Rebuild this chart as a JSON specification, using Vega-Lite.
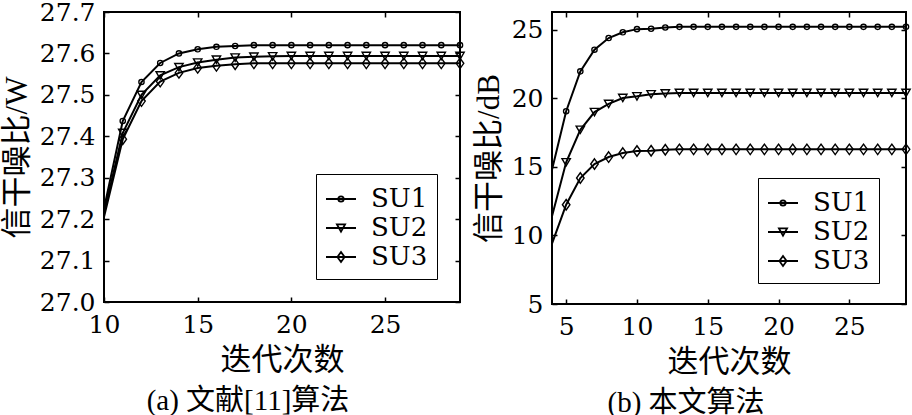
{
  "$schema": "https://vega.github.io/schema/vega-lite/v6.json",
  "padding": {"left": 0, "top": -1, "right": 0, "bottom": 0},
  "spacing": 4,
  "resolve": {"scale": {"shape": "independent"}, "legend": {"shape": "independent"}},
  "config": {
    "view": {"stroke": "black", "strokeWidth": 2},
    "axis": {
      "grid": false,
      "domain": false,
      "tickSize": -5,
      "tickColor": "black",
      "tickWidth": 1.5,
      "labelFont": "DejaVu Serif",
      "labelFontSize": 25,
      "labelColor": "black",
      "labelFlush": false,
      "labelOverlap": false,
      "titleFont": "Liberation Serif, Noto Sans CJK SC",
      "titleFontSize": 31,
      "titleFontWeight": "normal",
      "titleColor": "black"
    },
    "legend": {
      "title": null,
      "strokeColor": "black",
      "fillColor": "white",
      "padding": 9,
      "labelFont": "DejaVu Serif",
      "labelFontSize": 26,
      "labelColor": "black",
      "labelOffset": 14,
      "symbolSize": 900,
      "symbolStrokeWidth": 1.8,
      "symbolStrokeColor": "black",
      "symbolFillColor": "transparent",
      "symbolOpacity": 1,
      "rowPadding": 0
    }
  },
  "datasets": {
    "a": [
      {"x": 10, "y": 27.225, "s": "SU1"}, {"x": 11, "y": 27.437, "s": "SU1"}, {"x": 12, "y": 27.531, "s": "SU1"}, {"x": 13, "y": 27.577, "s": "SU1"}, {"x": 14, "y": 27.6, "s": "SU1"}, {"x": 15, "y": 27.61, "s": "SU1"}, {"x": 16, "y": 27.616, "s": "SU1"}, {"x": 17, "y": 27.618, "s": "SU1"}, {"x": 18, "y": 27.62, "s": "SU1"}, {"x": 19, "y": 27.62, "s": "SU1"}, {"x": 20, "y": 27.62, "s": "SU1"}, {"x": 21, "y": 27.62, "s": "SU1"}, {"x": 22, "y": 27.62, "s": "SU1"}, {"x": 23, "y": 27.62, "s": "SU1"}, {"x": 24, "y": 27.62, "s": "SU1"}, {"x": 25, "y": 27.62, "s": "SU1"}, {"x": 26, "y": 27.62, "s": "SU1"}, {"x": 27, "y": 27.62, "s": "SU1"}, {"x": 28, "y": 27.62, "s": "SU1"}, {"x": 29, "y": 27.62, "s": "SU1"},
      {"x": 10, "y": 27.215, "s": "SU2"}, {"x": 11, "y": 27.408, "s": "SU2"}, {"x": 12, "y": 27.5, "s": "SU2"}, {"x": 13, "y": 27.547, "s": "SU2"}, {"x": 14, "y": 27.567, "s": "SU2"}, {"x": 15, "y": 27.578, "s": "SU2"}, {"x": 16, "y": 27.585, "s": "SU2"}, {"x": 17, "y": 27.59, "s": "SU2"}, {"x": 18, "y": 27.592, "s": "SU2"}, {"x": 19, "y": 27.593, "s": "SU2"}, {"x": 20, "y": 27.594, "s": "SU2"}, {"x": 21, "y": 27.594, "s": "SU2"}, {"x": 22, "y": 27.594, "s": "SU2"}, {"x": 23, "y": 27.594, "s": "SU2"}, {"x": 24, "y": 27.594, "s": "SU2"}, {"x": 25, "y": 27.594, "s": "SU2"}, {"x": 26, "y": 27.594, "s": "SU2"}, {"x": 27, "y": 27.594, "s": "SU2"}, {"x": 28, "y": 27.594, "s": "SU2"}, {"x": 29, "y": 27.594, "s": "SU2"},
      {"x": 10, "y": 27.205, "s": "SU3"}, {"x": 11, "y": 27.393, "s": "SU3"}, {"x": 12, "y": 27.485, "s": "SU3"}, {"x": 13, "y": 27.532, "s": "SU3"}, {"x": 14, "y": 27.553, "s": "SU3"}, {"x": 15, "y": 27.565, "s": "SU3"}, {"x": 16, "y": 27.57, "s": "SU3"}, {"x": 17, "y": 27.574, "s": "SU3"}, {"x": 18, "y": 27.576, "s": "SU3"}, {"x": 19, "y": 27.576, "s": "SU3"}, {"x": 20, "y": 27.576, "s": "SU3"}, {"x": 21, "y": 27.576, "s": "SU3"}, {"x": 22, "y": 27.576, "s": "SU3"}, {"x": 23, "y": 27.576, "s": "SU3"}, {"x": 24, "y": 27.576, "s": "SU3"}, {"x": 25, "y": 27.576, "s": "SU3"}, {"x": 26, "y": 27.576, "s": "SU3"}, {"x": 27, "y": 27.576, "s": "SU3"}, {"x": 28, "y": 27.576, "s": "SU3"}, {"x": 29, "y": 27.576, "s": "SU3"}
    ],
    "b": [
      {"x": 4, "y": 14.8, "s": "SU1"}, {"x": 5, "y": 19.06, "s": "SU1"}, {"x": 6, "y": 21.97, "s": "SU1"}, {"x": 7, "y": 23.55, "s": "SU1"}, {"x": 8, "y": 24.4, "s": "SU1"}, {"x": 9, "y": 24.82, "s": "SU1"}, {"x": 10, "y": 25.05, "s": "SU1"}, {"x": 11, "y": 25.08, "s": "SU1"}, {"x": 12, "y": 25.17, "s": "SU1"}, {"x": 13, "y": 25.22, "s": "SU1"}, {"x": 14, "y": 25.22, "s": "SU1"}, {"x": 15, "y": 25.22, "s": "SU1"}, {"x": 16, "y": 25.22, "s": "SU1"}, {"x": 17, "y": 25.22, "s": "SU1"}, {"x": 18, "y": 25.22, "s": "SU1"}, {"x": 19, "y": 25.22, "s": "SU1"}, {"x": 20, "y": 25.22, "s": "SU1"}, {"x": 21, "y": 25.22, "s": "SU1"}, {"x": 22, "y": 25.22, "s": "SU1"}, {"x": 23, "y": 25.22, "s": "SU1"}, {"x": 24, "y": 25.22, "s": "SU1"}, {"x": 25, "y": 25.22, "s": "SU1"}, {"x": 26, "y": 25.22, "s": "SU1"}, {"x": 27, "y": 25.22, "s": "SU1"}, {"x": 28, "y": 25.22, "s": "SU1"}, {"x": 29, "y": 25.22, "s": "SU1"},
      {"x": 4, "y": 11.4, "s": "SU2"}, {"x": 5, "y": 15.34, "s": "SU2"}, {"x": 6, "y": 17.71, "s": "SU2"}, {"x": 7, "y": 19.0, "s": "SU2"}, {"x": 8, "y": 19.6, "s": "SU2"}, {"x": 9, "y": 20.03, "s": "SU2"}, {"x": 10, "y": 20.15, "s": "SU2"}, {"x": 11, "y": 20.3, "s": "SU2"}, {"x": 12, "y": 20.36, "s": "SU2"}, {"x": 13, "y": 20.4, "s": "SU2"}, {"x": 14, "y": 20.4, "s": "SU2"}, {"x": 15, "y": 20.4, "s": "SU2"}, {"x": 16, "y": 20.4, "s": "SU2"}, {"x": 17, "y": 20.4, "s": "SU2"}, {"x": 18, "y": 20.4, "s": "SU2"}, {"x": 19, "y": 20.4, "s": "SU2"}, {"x": 20, "y": 20.4, "s": "SU2"}, {"x": 21, "y": 20.4, "s": "SU2"}, {"x": 22, "y": 20.4, "s": "SU2"}, {"x": 23, "y": 20.4, "s": "SU2"}, {"x": 24, "y": 20.4, "s": "SU2"}, {"x": 25, "y": 20.4, "s": "SU2"}, {"x": 26, "y": 20.4, "s": "SU2"}, {"x": 27, "y": 20.4, "s": "SU2"}, {"x": 28, "y": 20.4, "s": "SU2"}, {"x": 29, "y": 20.4, "s": "SU2"},
      {"x": 4, "y": 9.4, "s": "SU3"}, {"x": 5, "y": 12.24, "s": "SU3"}, {"x": 6, "y": 14.19, "s": "SU3"}, {"x": 7, "y": 15.21, "s": "SU3"}, {"x": 8, "y": 15.72, "s": "SU3"}, {"x": 9, "y": 16.01, "s": "SU3"}, {"x": 10, "y": 16.16, "s": "SU3"}, {"x": 11, "y": 16.18, "s": "SU3"}, {"x": 12, "y": 16.25, "s": "SU3"}, {"x": 13, "y": 16.28, "s": "SU3"}, {"x": 14, "y": 16.28, "s": "SU3"}, {"x": 15, "y": 16.28, "s": "SU3"}, {"x": 16, "y": 16.28, "s": "SU3"}, {"x": 17, "y": 16.28, "s": "SU3"}, {"x": 18, "y": 16.28, "s": "SU3"}, {"x": 19, "y": 16.28, "s": "SU3"}, {"x": 20, "y": 16.28, "s": "SU3"}, {"x": 21, "y": 16.28, "s": "SU3"}, {"x": 22, "y": 16.28, "s": "SU3"}, {"x": 23, "y": 16.28, "s": "SU3"}, {"x": 24, "y": 16.28, "s": "SU3"}, {"x": 25, "y": 16.28, "s": "SU3"}, {"x": 26, "y": 16.28, "s": "SU3"}, {"x": 27, "y": 16.28, "s": "SU3"}, {"x": 28, "y": 16.28, "s": "SU3"}, {"x": 29, "y": 16.28, "s": "SU3"}
    ]
  },
  "hconcat": [
    {
      "width": 356,
      "height": 290,
      "data": {"name": "a"},
      "title": {"text": "(a) 文献[11]算法", "orient": "bottom", "anchor": "middle", "frame": "group", "dx": -34, "offset": 12, "font": "Liberation Serif, Noto Sans CJK SC", "fontSize": 29, "fontWeight": "normal", "color": "black"},
      "layer": [
        {
          "mark": {"type": "line", "color": "black", "strokeWidth": 2},
          "encoding": {
            "x": {"field": "x", "type": "quantitative", "scale": {"domain": [10, 29], "nice": false, "zero": false},
                  "axis": {"orient": "bottom", "values": [10, 15, 20, 25], "title": "迭代次数", "labelPadding": 15, "titlePadding": 8}},
            "y": {"field": "y", "type": "quantitative", "scale": {"domain": [27.0, 27.7], "nice": false, "zero": false},
                  "axis": {"orient": "left", "values": [27.0, 27.1, 27.2, 27.3, 27.4, 27.5, 27.6, 27.7], "format": ".1f", "title": "信干噪比/W", "labelPadding": 14, "titlePadding": 6}},
            "detail": {"field": "s", "type": "nominal"}
          }
        },
        {
          "transform": [{"filter": "datum.x > 10"}],
          "mark": {"type": "point", "filled": false, "color": "black", "strokeWidth": 1.4, "opacity": 1, "size": 110},
          "encoding": {
            "x": {"field": "x", "type": "quantitative", "axis": null},
            "y": {"field": "y", "type": "quantitative", "axis": null},
            "shape": {"field": "s", "type": "nominal", "legend": null,
              "scale": {"domain": ["SU1", "SU2", "SU3"], "range": ["M0.5,0A0.5,0.5,0,1,1,-0.5,0A0.5,0.5,0,1,1,0.5,0Z", "M-0.8,-0.7L0.8,-0.7L0,0.7Z", "M0,-1L0.72,0L0,1L-0.72,0Z"]}}
          }
        },
        {
          "transform": [{"filter": "false"}],
          "mark": {"type": "point", "filled": false, "color": "black", "strokeWidth": 1.8, "opacity": 0, "size": 1},
          "encoding": {
            "x": {"field": "x", "type": "quantitative", "axis": null},
            "y": {"field": "y", "type": "quantitative", "axis": null},
            "shape": {"field": "s", "type": "nominal",
              "scale": {"domain": ["SU1", "SU2", "SU3"], "range": ["M-1,0H1M0.18,0A0.18,0.18,0,1,1,-0.18,0A0.18,0.18,0,1,1,0.18,0Z", "M-1,0H1M-0.27,-0.24L0.27,-0.24L0,0.24Z", "M-1,0H1M0,-0.33L0.24,0L0,0.33L-0.24,0Z"]},
              "legend": {
                "orient": "none", "legendX": 212, "legendY": 162,
                "encode": {
                  "legend": {"strokeWidth": {"value": 1.5}},
                  "symbols": {
                    "size": {"value": 900},
                    "stroke": {"value": "black"},
                    "fill": {"value": "transparent"},
                    "strokeWidth": {"value": 1.8},
                    "opacity": {"value": 1}
                  }
                }
              }
            }
          }
        },
        {
          "mark": {"type": "line", "opacity": 0},
          "encoding": {
            "x": {"field": "x", "type": "quantitative", "axis": {"orient": "top", "values": [10, 15, 20, 25], "labels": false, "title": null}},
            "y": {"field": "y", "type": "quantitative", "axis": {"orient": "right", "values": [27.0, 27.1, 27.2, 27.3, 27.4, 27.5, 27.6, 27.7], "labels": false, "title": null}},
            "detail": {"field": "s", "type": "nominal"}
          }
        }
      ],
      "resolve": {"axis": {"x": "independent", "y": "independent"}, "scale": {"shape": "independent"}, "legend": {"shape": "independent"}}
    },
    {
      "width": 354,
      "height": 292,
      "data": {"name": "b"},
      "title": {"text": "(b) 本文算法", "orient": "bottom", "anchor": "middle", "frame": "group", "dx": -43, "offset": 12, "font": "Liberation Serif, Noto Sans CJK SC", "fontSize": 29, "fontWeight": "normal", "color": "black"},
      "layer": [
        {
          "mark": {"type": "line", "color": "black", "strokeWidth": 2},
          "encoding": {
            "x": {"field": "x", "type": "quantitative", "scale": {"domain": [4, 29], "nice": false, "zero": false},
                  "axis": {"orient": "bottom", "values": [5, 10, 15, 20, 25], "title": "迭代次数", "labelPadding": 15, "titlePadding": 8}},
            "y": {"field": "y", "type": "quantitative", "scale": {"domain": [5, 26.3], "nice": false, "zero": false},
                  "axis": {"orient": "left", "values": [5, 10, 15, 20, 25], "title": "信干噪比/dB", "labelPadding": 14, "titlePadding": 6}},
            "detail": {"field": "s", "type": "nominal"}
          }
        },
        {
          "transform": [{"filter": "datum.x > 4"}],
          "mark": {"type": "point", "filled": false, "color": "black", "strokeWidth": 1.4, "opacity": 1, "size": 110},
          "encoding": {
            "x": {"field": "x", "type": "quantitative", "axis": null},
            "y": {"field": "y", "type": "quantitative", "axis": null},
            "shape": {"field": "s", "type": "nominal", "legend": null,
              "scale": {"domain": ["SU1", "SU2", "SU3"], "range": ["M0.5,0A0.5,0.5,0,1,1,-0.5,0A0.5,0.5,0,1,1,0.5,0Z", "M-0.8,-0.7L0.8,-0.7L0,0.7Z", "M0,-1L0.72,0L0,1L-0.72,0Z"]}}
          }
        },
        {
          "transform": [{"filter": "false"}],
          "mark": {"type": "point", "filled": false, "color": "black", "strokeWidth": 1.8, "opacity": 0, "size": 1},
          "encoding": {
            "x": {"field": "x", "type": "quantitative", "axis": null},
            "y": {"field": "y", "type": "quantitative", "axis": null},
            "shape": {"field": "s", "type": "nominal",
              "scale": {"domain": ["SU1", "SU2", "SU3"], "range": ["M-1,0H1M0.18,0A0.18,0.18,0,1,1,-0.18,0A0.18,0.18,0,1,1,0.18,0Z", "M-1,0H1M-0.27,-0.24L0.27,-0.24L0,0.24Z", "M-1,0H1M0,-0.33L0.24,0L0,0.33L-0.24,0Z"]},
              "legend": {
                "orient": "none", "legendX": 206, "legendY": 166,
                "encode": {
                  "legend": {"strokeWidth": {"value": 1.5}},
                  "symbols": {
                    "size": {"value": 900},
                    "stroke": {"value": "black"},
                    "fill": {"value": "transparent"},
                    "strokeWidth": {"value": 1.8},
                    "opacity": {"value": 1}
                  }
                }
              }
            }
          }
        },
        {
          "mark": {"type": "line", "opacity": 0},
          "encoding": {
            "x": {"field": "x", "type": "quantitative", "axis": {"orient": "top", "values": [5, 10, 15, 20, 25], "labels": false, "title": null}},
            "y": {"field": "y", "type": "quantitative", "axis": {"orient": "right", "values": [5, 10, 15, 20, 25], "labels": false, "title": null}},
            "detail": {"field": "s", "type": "nominal"}
          }
        }
      ],
      "resolve": {"axis": {"x": "independent", "y": "independent"}, "scale": {"shape": "independent"}, "legend": {"shape": "independent"}}
    }
  ]
}
